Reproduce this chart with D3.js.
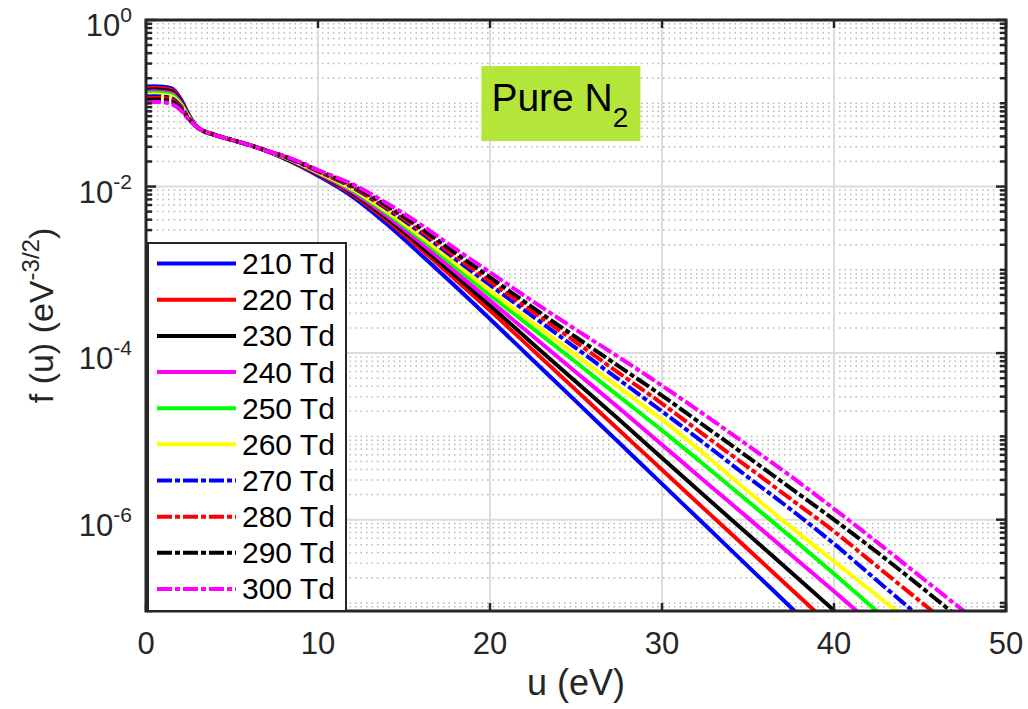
<!DOCTYPE html>
<html lang="en">
<head>
<meta charset="utf-8">
<script src="https://cdnjs.cloudflare.com/ajax/libs/d3/7.8.5/d3.min.js"></script>
<style>
  body { margin: 0; background: #fff; }
  svg text { font-family: "Liberation Sans", Arial, sans-serif; }
  .minor-grid line { stroke: #b8b8b8; stroke-width: 1.5; stroke-dasharray: 1.5,4; }
  .major-grid line { stroke: #dcdcdc; stroke-width: 2; }
  .ticks line { stroke: #262626; stroke-width: 2.5; }
  .curves path { fill: none; stroke-width: 4; }
</style>
</head>
<body>
<script>
// energy grid (eV)
var energy = [0, 0.5, 1, 1.5, 2, 2.5, 3, 4, 5, 6, 7, 8, 9, 10, 12, 14, 16, 18, 20,
  22.5, 25, 27.5, 30, 32.5, 35, 37.5, 40, 42.5, 45, 47.5, 50];

// EEDF f(u) in eV^-3/2
var f210 = [0.1585, 0.1603, 0.1585, 0.1514, 0.1148, 0.0724, 0.0513, 0.0417, 0.0363, 0.0316, 0.0269,
  0.0219, 0.0174, 0.0135, 7.59e-3, 3.55e-3, 1.51e-3, 6.31e-4, 2.57e-4, 8.22e-5, 2.63e-5, 8.41e-6,
  2.69e-6, 8.61e-7, 2.75e-7, 8.81e-8, 2.82e-8];
var f220 = [0.1514, 0.1531, 0.1514, 0.1445, 0.1109, 0.0713, 0.0513, 0.0417, 0.0363, 0.0316, 0.0269,
  0.0221, 0.0177, 0.0139, 8.07e-3, 3.94e-3, 1.76e-3, 7.60e-4, 3.24e-4, 1.08e-4, 3.59e-5, 1.19e-5,
  3.98e-6, 1.32e-6, 4.42e-7, 1.47e-7, 4.90e-8];
var f230 = [0.1445, 0.1462, 0.1445, 0.1380, 0.1072, 0.0703, 0.0513, 0.0417, 0.0363, 0.0316, 0.0269,
  0.0223, 0.0179, 0.0141, 8.38e-3, 4.19e-3, 1.92e-3, 8.51e-4, 3.72e-4, 1.29e-4, 4.52e-5, 1.59e-5,
  5.50e-6, 1.91e-6, 6.68e-7, 2.33e-7, 8.13e-8, 2.82e-8];
var f240 = [0.1380, 0.1396, 0.1380, 0.1318, 0.1035, 0.0692, 0.0513, 0.0417, 0.0363, 0.0316, 0.0269,
  0.0225, 0.0182, 0.0144, 8.67e-3, 4.44e-3, 2.09e-3, 9.44e-4, 4.27e-4, 1.59e-4, 5.89e-5, 2.19e-5,
  7.94e-6, 2.88e-6, 1.05e-6, 3.80e-7, 1.38e-7, 4.90e-8];
var f250 = [0.1318, 0.1334, 0.1318, 0.1259, 0.1000, 0.0681, 0.0513, 0.0417, 0.0363, 0.0316, 0.0269,
  0.0227, 0.0185, 0.0147, 9.08e-3, 4.79e-3, 2.33e-3, 1.08e-3, 5.01e-4, 1.97e-4, 7.76e-5, 3.02e-5,
  1.18e-5, 4.47e-6, 1.66e-6, 6.17e-7, 2.24e-7, 7.94e-8, 2.82e-8];
var f260 = [0.1259, 0.1274, 0.1259, 0.1202, 0.0966, 0.0671, 0.0513, 0.0417, 0.0363, 0.0316, 0.0269,
  0.0228, 0.0186, 0.0149, 9.35e-3, 5.04e-3, 2.51e-3, 1.19e-3, 5.62e-4, 2.29e-4, 9.44e-5, 3.85e-5,
  1.59e-5, 6.03e-6, 2.19e-6, 8.13e-7, 3.16e-7, 1.23e-7, 4.79e-8];
var f270 = [0.1202, 0.1216, 0.1202, 0.1148, 0.0933, 0.0661, 0.0513, 0.0417, 0.0363, 0.0316, 0.0269,
  0.0230, 0.0189, 0.0152, 9.77e-3, 5.40e-3, 2.77e-3, 1.34e-3, 6.61e-4, 2.75e-4, 1.15e-4, 4.79e-5,
  2.00e-5, 8.13e-6, 3.24e-6, 1.32e-6, 5.13e-7, 1.86e-7, 6.76e-8];
var f280 = [0.1148, 0.1161, 0.1148, 0.1096, 0.0902, 0.0650, 0.0513, 0.0417, 0.0363, 0.0316, 0.0269,
  0.0231, 0.0191, 0.0153, 1.00e-2, 5.62e-3, 2.94e-3, 1.45e-3, 7.24e-4, 3.13e-4, 1.35e-4, 5.75e-5,
  2.48e-5, 1.02e-5, 4.27e-6, 1.76e-6, 7.24e-7, 2.75e-7, 1.05e-7, 3.98e-8];
var f290 = [0.1096, 0.1109, 0.1096, 0.1047, 0.0871, 0.0641, 0.0513, 0.0417, 0.0363, 0.0316, 0.0269,
  0.0233, 0.0192, 0.0156, 1.03e-2, 5.92e-3, 3.16e-3, 1.59e-3, 8.13e-4, 3.51e-4, 1.55e-4, 6.92e-5,
  3.09e-5, 1.32e-5, 5.62e-6, 2.37e-6, 1.00e-6, 4.07e-7, 1.59e-7, 6.03e-8];
var f300 = [0.1023, 0.1035, 0.1023, 0.0977, 0.0832, 0.0631, 0.0513, 0.0417, 0.0363, 0.0316, 0.0269,
  0.0234, 0.0195, 0.0158, 1.07e-2, 6.31e-3, 3.47e-3, 1.78e-3, 9.33e-4, 4.17e-4, 1.91e-4, 8.91e-5,
  4.07e-5, 1.80e-5, 7.76e-6, 3.31e-6, 1.35e-6, 5.37e-7, 2.09e-7, 8.13e-8, 3.09e-8];

var labels = ['210 Td', '220 Td', '230 Td', '240 Td', '250 Td', '260 Td', '270 Td', '280 Td', '290 Td', '300 Td'];
var colors = ['#0000ff', '#ff0000', '#000000', '#ff00ff', '#00ff00', '#ffff00', '#0000ff', '#ff0000', '#000000', '#ff00ff'];
var dashed = [false, false, false, false, false, false, true, true, true, true];
var xTicks = [0, 10, 20, 30, 40, 50];
var yTickExp = [0, -2, -4, -6];

var series = [f210, f220, f230, f240, f250, f260, f270, f280, f290, f300];
var dashPattern = '15,3,5,3';

var width = 1028, height = 709;
var margin = {top: 20, right: 22, bottom: 98, left: 146};
var w = width - margin.left - margin.right,
    h = height - margin.top - margin.bottom;

var svg = d3.select('body').append('svg')
  .attr('width', width)
  .attr('height', height);

var g = svg.append('g')
  .attr('transform', 'translate(' + margin.left + ',' + margin.top + ')');

var x = d3.scaleLinear().domain([0, 50]).range([0, w]);
var y = d3.scaleLog().domain([8e-8, 1]).range([h, 0]);

// minor values k * 10^n, without the labelled decades
var minorVals = [];
for (var n = -8; n <= -1; n++) {
  for (var k = 1; k <= 9; k++) {
    var v = k * Math.pow(10, n);
    if (v < 8e-8) continue;
    if (k === 1 && yTickExp.indexOf(n) >= 0) continue;
    minorVals.push(v);
  }
}
var majorY = yTickExp.map(e => Math.pow(10, e));

g.append('g').attr('class', 'minor-grid')
  .selectAll('line').data(minorVals).enter().append('line')
  .attr('x1', 0).attr('x2', w)
  .attr('y1', d => y(d)).attr('y2', d => y(d));

var major = g.append('g').attr('class', 'major-grid');
major.selectAll('line.gx').data(xTicks.slice(1, -1)).enter().append('line')
  .attr('x1', d => x(d)).attr('x2', d => x(d))
  .attr('y1', 0).attr('y2', h);
major.selectAll('line.gy').data(majorY.slice(1)).enter().append('line')
  .attr('x1', 0).attr('x2', w)
  .attr('y1', d => y(d)).attr('y2', d => y(d));

// title box
var note = g.append('g').attr('transform', 'translate(' + x(19.5) + ',' + y(0.28) + ')');
note.append('rect').attr('width', 159).attr('height', 75).attr('fill', '#b4e63a');
var nt = note.append('text').attr('x', 10).attr('y', 45)
  .attr('font-size', 39).attr('fill', '#000').text('Pure N');
nt.append('tspan').attr('dy', 16).attr('font-size', 28).text('2');

// curves
g.append('clipPath').attr('id', 'clip')
  .append('rect').attr('width', w).attr('height', h);

var line = d3.line()
  .x((d, i) => x(energy[i]))
  .y(d => y(d))
  .curve(d3.curveMonotoneX);

g.append('g').attr('class', 'curves').attr('clip-path', 'url(#clip)')
  .selectAll('path').data(series).enter().append('path')
  .attr('d', line)
  .attr('stroke', (d, i) => colors[i])
  .attr('stroke-dasharray', (d, i) => dashed[i] ? dashPattern : null);

// axes box and ticks
var ticks = g.append('g').attr('class', 'ticks');
xTicks.forEach(t => {
  ticks.append('line').attr('x1', x(t)).attr('x2', x(t)).attr('y1', h).attr('y2', h - 8);
  ticks.append('line').attr('x1', x(t)).attr('x2', x(t)).attr('y1', 0).attr('y2', 8);
});
minorVals.concat(majorY).forEach(v => {
  var len = majorY.indexOf(v) >= 0 ? 10 : 6;
  ticks.append('line').attr('x1', 0).attr('x2', len).attr('y1', y(v)).attr('y2', y(v));
  ticks.append('line').attr('x1', w).attr('x2', w - len).attr('y1', y(v)).attr('y2', y(v));
});
g.append('rect').attr('width', w).attr('height', h)
  .attr('fill', 'none').attr('stroke', '#262626').attr('stroke-width', 3);

// tick labels
g.selectAll('text.xt').data(xTicks).enter().append('text')
  .attr('x', d => x(d)).attr('y', h + 43)
  .attr('text-anchor', 'middle').attr('font-size', 31).attr('fill', '#262626')
  .text(d => d);

yTickExp.forEach(e => {
  var t = g.append('text').attr('x', -14).attr('y', y(Math.pow(10, e)) + 16)
    .attr('text-anchor', 'end').attr('font-size', 31).attr('fill', '#262626').text('10');
  t.append('tspan').attr('dy', -14).attr('font-size', 21).text(e === 0 ? '0' : '-' + (-e));
});

// axis titles
g.append('text').attr('x', w / 2).attr('y', h + 84)
  .attr('text-anchor', 'middle').attr('font-size', 36).attr('fill', '#262626')
  .text('u (eV)');

var yl = g.append('text')
  .attr('transform', 'translate(' + (-93) + ',' + (h / 2) + ') rotate(-90)')
  .attr('text-anchor', 'middle').attr('font-size', 34).attr('fill', '#262626');
yl.append('tspan').text('f (u) (eV');
yl.append('tspan').attr('dy', -14).attr('font-size', 24).text('-3/2');
yl.append('tspan').attr('dy', 14).text(')');

// legend
var lg = g.append('g').attr('transform', 'translate(2,' + (h - 368) + ')');
lg.append('rect').attr('width', 198).attr('height', 368)
  .attr('fill', '#fff').attr('stroke', '#262626').attr('stroke-width', 2);
var rows = lg.selectAll('g.row').data(labels).enter().append('g')
  .attr('transform', (d, i) => 'translate(0,' + (20.6 + i * 36.15) + ')');
rows.append('line').attr('x1', 9).attr('x2', 88)
  .attr('stroke', (d, i) => colors[i]).attr('stroke-width', 4)
  .attr('stroke-dasharray', (d, i) => dashed[i] ? dashPattern : null);
rows.append('text').attr('x', 94).attr('y', 10.5)
  .attr('font-size', 30).attr('fill', '#000').text(d => d);
</script>
</body>
</html>
